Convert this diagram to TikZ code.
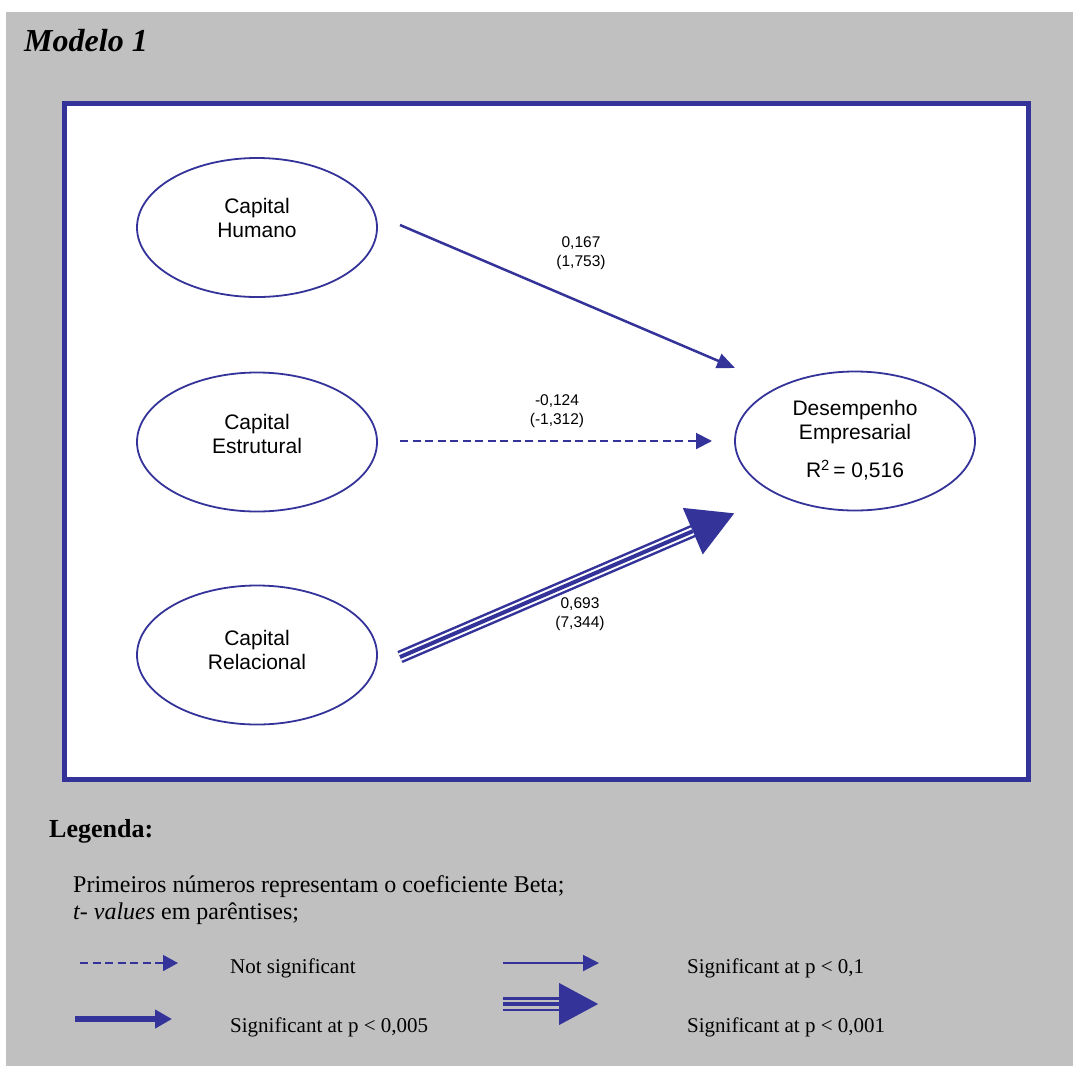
\documentclass[tikz,border=0pt]{standalone}
\usepackage{fontspec}
\setmainfont{Liberation Serif}
\newfontfamily\arialf{Liberation Sans}
\usetikzlibrary{shapes.geometric,arrows.meta}
\definecolor{pathblue}{RGB}{51,51,153}
\definecolor{panelgray}{RGB}{192,192,192}
\begin{document}
\begin{tikzpicture}[x=1pt,y=-1pt,
  construct/.style={ellipse, draw=pathblue, line width=1.8pt, fill=white,
    minimum width=240pt, minimum height=139pt, inner sep=0pt},
  ctext/.style={font=\arialf\fontsize{21}{24}\selectfont, align=center, inner sep=0pt},
  coef/.style={font=\arialf\fontsize{15.5}{19.5}\selectfont, align=center, inner sep=0pt},
  legtext/.style={font=\fontsize{21}{25}\selectfont, anchor=base west, inner sep=0pt},
  notetext/.style={font=\fontsize{24}{28}\selectfont, anchor=base west, inner sep=0pt},
  nsarrow/.style={draw=pathblue, line width=2pt, dash pattern=on 8pt off 4.5pt,
    -{Triangle[length=16pt,width=16pt]}},
  weakarrow/.style={draw=pathblue, line width=2.5pt, -{Triangle[length=18pt,width=15pt]}},
]
% canvas and panel
\useasboundingbox (0,0) rectangle (1073,1066);
\fill[white] (0,0) rectangle (1073,1066);
\fill[panelgray] (6,12) rectangle (1073,1066);
\draw[pathblue, line width=5pt, fill=white] (64.5,103.5) rectangle (1028.5,779.5);

\node[font=\bfseries\itshape\fontsize{32}{36}\selectfont, anchor=base west, inner sep=0pt]
  (title) at (24,51) {Modelo 1};

% constructs
\node[construct] (hum) at (257,227.5) {};
\node[ctext] (humt) at (257,218) {Capital\\Humano};
\node[construct] (est) at (257,442) {};
\node[ctext] (estt) at (257,434) {Capital\\Estrutural};
\node[construct] (rel) at (257,655) {};
\node[ctext] (relt) at (257,650) {Capital\\Relacional};
\node[construct] (des) at (855,441) {};
\node[ctext] (dest) at (855,422.5) {Desempenho\\Empresarial};
\node[ctext] (r2) at (855,470) {R\textsuperscript{2}\,= 0,516};

% path end points
\coordinate (hs) at (400,225);
\coordinate (he) at (735,368);
\coordinate (es) at (400,441);
\coordinate (ee) at (712,441);
\coordinate (rs) at (400,657);
\coordinate (re) at (735,513);

% paths
\draw[weakarrow] (hs) -- (he);
\draw[nsarrow] (es) -- (ee);
\draw[pathblue, line width=13pt, -{Triangle[length=46pt,width=47pt]}] (rs) -- (re);
\draw[white, line width=8pt, shorten >=46pt] (rs) -- (re);
\draw[pathblue, line width=4pt, shorten >=46pt] (rs) -- (re);

% coefficients
\node[coef] (c1) at (581,253) {0,167\\(1,753)};
\node[coef] (c2) at (557,411) {-0,124\\(-1,312)};
\node[coef] (c3) at (580,614) {0,693\\(7,344)};

% legend
\node[font=\bfseries\fontsize{26}{30}\selectfont, anchor=base west, inner sep=0pt]
  (leg) at (49,837) {Legenda:};
\node[notetext] (note1) at (73,892) {Primeiros números representam o coeficiente Beta;};
\node[notetext] (note2) at (73,919) {\textit{t- values} em parêntises;};

\coordinate (l1a) at (80,963);  \coordinate (l1b) at (178,963);
\coordinate (l2a) at (75,1019); \coordinate (l2b) at (172,1019);
\coordinate (l3a) at (503,963); \coordinate (l3b) at (599,963);
\coordinate (l4a) at (503,1004); \coordinate (l4b) at (599,1004);

\draw[draw=pathblue, line width=1.5pt, dash pattern=on 8pt off 4.5pt,
  -{Triangle[length=15pt,width=16pt]}] (l1a) -- (l1b);
\draw[draw=pathblue, line width=6pt, -{Triangle[length=17pt,width=18pt]}] (l2a) -- (l2b);
\draw[draw=pathblue, line width=2pt, -{Triangle[length=16pt,width=16pt]}] (l3a) -- (l3b);
\draw[pathblue, line width=14pt, -{Triangle[length=40pt,width=39pt]}] (l4a) -- (l4b);
\draw[panelgray, line width=9pt, shorten >=40pt] (l4a) -- (l4b);
\draw[pathblue, line width=4pt, shorten >=40pt] (l4a) -- (l4b);

\node[legtext] (t1) at (230,973) {Not significant};
\node[legtext] (t2) at (230,1032) {Significant at p < 0,005};
\node[legtext] (t3) at (687,973) {Significant at p < 0,1};
\node[legtext] (t4) at (687,1032) {Significant at p < 0,001};
\end{tikzpicture}
\end{document}
